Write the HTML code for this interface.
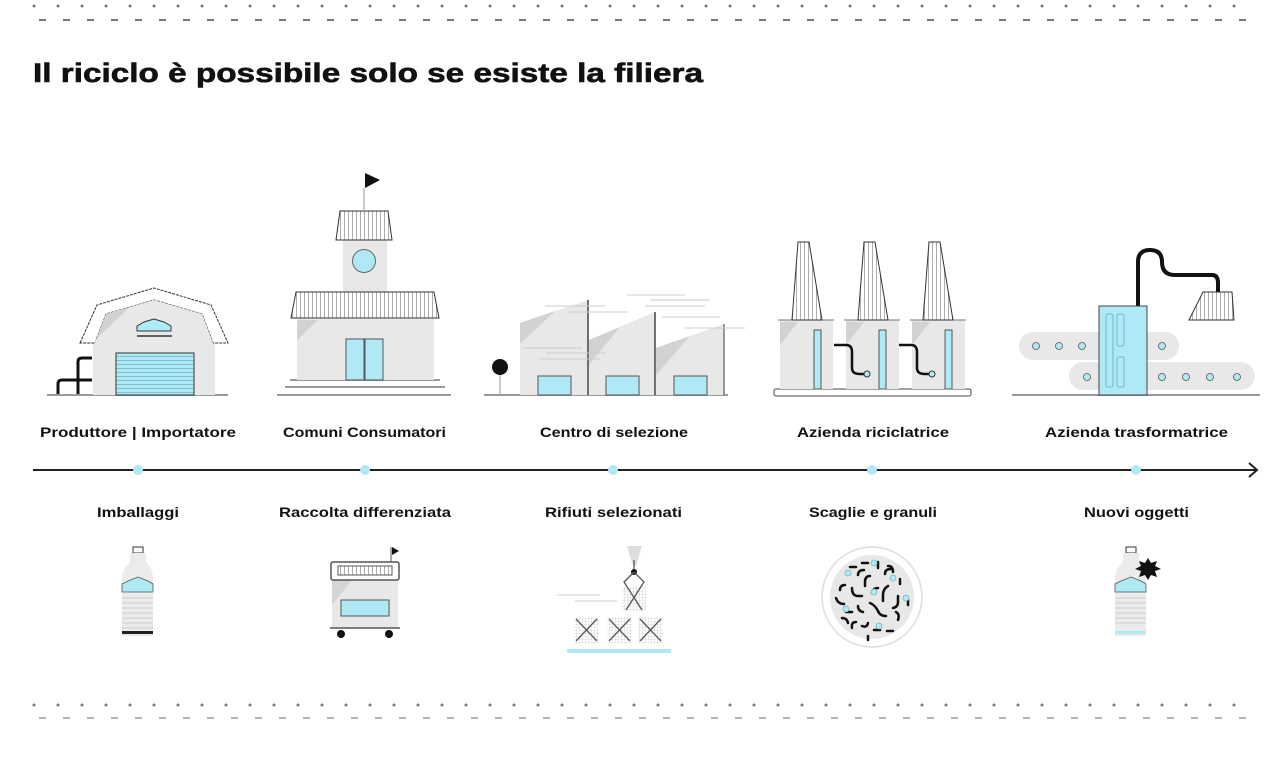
<!DOCTYPE html>
<html><head><meta charset="utf-8"><style>
html,body{margin:0;padding:0;background:#fff;}
svg{display:block;}
text{font-family:"Liberation Sans",sans-serif;font-weight:bold;fill:#111;}
</style></head><body>
<svg width="1280" height="777" viewBox="0 0 1280 777" xmlns="http://www.w3.org/2000/svg">
<defs>
<pattern id="vl" width="4" height="10" patternUnits="userSpaceOnUse"><rect width="4" height="10" fill="#fff"/><rect x="0" width="0.8" height="10" fill="#999"/></pattern>
<pattern id="hl" width="10" height="4" patternUnits="userSpaceOnUse"><rect width="10" height="4" fill="#aee9f5"/><rect y="0" width="10" height="0.8" fill="#6fb9c8"/></pattern>
<pattern id="grid" width="3" height="3" patternUnits="userSpaceOnUse"><rect width="3" height="3" fill="#fff"/><path d="M0 0H3M0 0V3" stroke="#bbb" stroke-width="0.6"/></pattern>
</defs>
<!-- top border -->
<line x1="34" y1="6" x2="1248" y2="6" stroke="#777" stroke-width="3" stroke-linecap="round" stroke-dasharray="0 24"/>
<line x1="39" y1="20" x2="1249" y2="20" stroke="#777" stroke-width="2" stroke-dasharray="7 17"/>
<!-- bottom border -->
<line x1="34" y1="705" x2="1248" y2="705" stroke="#777" stroke-width="3" stroke-linecap="round" stroke-dasharray="0 24"/>
<line x1="39" y1="718" x2="1249" y2="718" stroke="#999" stroke-width="1.5" stroke-dasharray="7 17"/>

<text x="33" y="82" font-size="27" textLength="670" lengthAdjust="spacingAndGlyphs" stroke="#111" stroke-width="0.6">Il riciclo è possibile solo se esiste la filiera</text>

<!-- Timeline -->
<line x1="33" y1="470" x2="1256" y2="470" stroke="#222" stroke-width="2"/>
<path d="M1249 463 L1257 470 L1249 477" fill="none" stroke="#222" stroke-width="2"/>
<g fill="#aee9f5"><circle cx="138" cy="470" r="5"/><circle cx="365" cy="470" r="5"/><circle cx="613" cy="470" r="5"/><circle cx="872" cy="470" r="5"/><circle cx="1136" cy="470" r="5"/></g>

<g font-size="14">
<text x="40" y="437" textLength="196" lengthAdjust="spacingAndGlyphs">Produttore | Importatore</text>
<text x="283" y="437" textLength="163" lengthAdjust="spacingAndGlyphs">Comuni Consumatori</text>
<text x="540" y="437" textLength="148" lengthAdjust="spacingAndGlyphs">Centro di selezione</text>
<text x="797" y="437" textLength="152" lengthAdjust="spacingAndGlyphs">Azienda riciclatrice</text>
<text x="1045" y="437" textLength="183" lengthAdjust="spacingAndGlyphs">Azienda trasformatrice</text>
<text x="97" y="517" textLength="82" lengthAdjust="spacingAndGlyphs">Imballaggi</text>
<text x="279" y="517" textLength="172" lengthAdjust="spacingAndGlyphs">Raccolta differenziata</text>
<text x="545" y="517" textLength="137" lengthAdjust="spacingAndGlyphs">Rifiuti selezionati</text>
<text x="809" y="517" textLength="128" lengthAdjust="spacingAndGlyphs">Scaglie e granuli</text>
<text x="1084" y="517" textLength="105" lengthAdjust="spacingAndGlyphs">Nuovi oggetti</text>
</g>

<!-- Barn -->
<g>
<line x1="47" y1="395" x2="228" y2="395" stroke="#999" stroke-width="2"/>
<path d="M93 339 L93 395 L215 395 L215 339 Z" fill="#e8e8e8"/>
<path d="M80 343 L97 305 L154 288 L211 305 L228 343 L213 343 L202 314 L154 300 L106 314 L95 343 Z" fill="#fff" stroke="#333" stroke-width="1" stroke-dasharray="3 1"/>
<path d="M95 343 L106 314 L154 300 L202 314 L213 343 L213 395 L95 395 Z" fill="#e8e8e8"/>
<path d="M95 343 L106 314 L130 307 L95 340Z" fill="#d2d2d2"/>
<rect x="116" y="353" width="78" height="42" fill="url(#hl)" stroke="#333"/>
<path d="M137 331 L137 326 L144 322 L154 319 L164 322 L171 326 L171 331 Z" fill="#aee9f5" stroke="#333"/>
<line x1="137" y1="336" x2="172" y2="336" stroke="#333" stroke-width="1.5"/>
<path d="M58 394 V384 Q58 380 62 380 H92 M78 394 V362 Q78 358 82 358 H92" fill="none" stroke="#111" stroke-width="3"/>
</g>

<!-- Town hall -->
<g>
<line x1="277" y1="395" x2="451" y2="395" stroke="#999" stroke-width="2"/>
<line x1="285" y1="387" x2="445" y2="387" stroke="#999" stroke-width="2"/>
<line x1="290" y1="380" x2="440" y2="380" stroke="#999" stroke-width="2"/>
<rect x="343" y="240" width="44" height="52" fill="#e8e8e8"/>
<rect x="297" y="318" width="137" height="62" fill="#e8e8e8"/>
<path d="M297 320 L318 320 L297 340Z" fill="#d2d2d2"/>
<path d="M296 292 L434 292 L439 318 L291 318 Z" fill="url(#vl)" stroke="#333"/>
<path d="M340 211 L388 211 L392 240 L336 240 Z" fill="url(#vl)" stroke="#333"/>
<line x1="364" y1="188" x2="364" y2="211" stroke="#aaa" stroke-width="1.2"/>
<path d="M365 173 L380 180 L365 188Z" fill="#111"/>
<circle cx="364" cy="261" r="11.5" fill="#aee9f5" stroke="#666"/>
<rect x="346" y="339" width="18" height="41" fill="#aee9f5" stroke="#555"/>
<rect x="365" y="339" width="18" height="41" fill="#aee9f5" stroke="#555"/>
</g>

<!-- Selection center -->
<g>
<line x1="484" y1="395" x2="728" y2="395" stroke="#999" stroke-width="2"/>
<path d="M520 395 V323 L588 300 V395 Z" fill="#e8e8e8"/>
<path d="M520 323 L555 311 L520 344Z" fill="#d2d2d2"/>
<path d="M589 395 V340 L655 312 V395 Z" fill="#e8e8e8"/>
<path d="M589 340 L620 327 L589 365Z" fill="#d2d2d2"/>
<path d="M656 395 V348 L724 324 V395 Z" fill="#e8e8e8"/>
<path d="M656 348 L690 336 L656 375Z" fill="#d2d2d2"/>
<line x1="588" y1="300" x2="588" y2="395" stroke="#444" stroke-width="1.5"/>
<line x1="655" y1="312" x2="655" y2="395" stroke="#444" stroke-width="1.5"/>
<line x1="724" y1="324" x2="724" y2="395" stroke="#777" stroke-width="1.5"/>
<g stroke="#ccc" stroke-width="1"><line x1="545" y1="306" x2="605" y2="306"/><line x1="568" y1="312" x2="628" y2="312"/><line x1="627" y1="295" x2="685" y2="295"/><line x1="650" y1="300" x2="710" y2="300"/><line x1="645" y1="306" x2="705" y2="306"/><line x1="662" y1="317" x2="720" y2="317"/><line x1="685" y1="328" x2="745" y2="328"/><line x1="523" y1="348" x2="582" y2="348"/><line x1="546" y1="353" x2="606" y2="353"/><line x1="540" y1="359" x2="600" y2="359"/></g>
<rect x="538" y="376" width="33" height="19" fill="#aee9f5" stroke="#555"/>
<rect x="606" y="376" width="33" height="19" fill="#aee9f5" stroke="#555"/>
<rect x="674" y="376" width="33" height="19" fill="#aee9f5" stroke="#555"/>
<line x1="500" y1="368" x2="500" y2="395" stroke="#aaa" stroke-width="1.2"/>
<circle cx="500" cy="367" r="8" fill="#111"/>
</g>

<!-- Recycling plant -->
<g>
<rect x="774" y="389" width="197" height="7" rx="2" fill="#fff" stroke="#444"/>
<rect x="780" y="320" width="53" height="69" fill="#e8e8e8"/>
<rect x="846" y="320" width="53" height="69" fill="#e8e8e8"/>
<rect x="912" y="320" width="53" height="69" fill="#e8e8e8"/>
<path d="M780 322 L798 322 L780 345Z M846 322 L864 322 L846 345Z M912 322 L930 322 L912 345Z" fill="#d2d2d2"/>
<line x1="778" y1="320" x2="834" y2="320" stroke="#777"/><line x1="844" y1="320" x2="900" y2="320" stroke="#777"/><line x1="910" y1="320" x2="966" y2="320" stroke="#777"/>
<path d="M798 242 L809 242 L822 320 L792 320 Z" fill="url(#vl)" stroke="#333"/>
<path d="M864 242 L875 242 L888 320 L858 320 Z" fill="url(#vl)" stroke="#333"/>
<path d="M929 242 L940 242 L953 320 L923 320 Z" fill="url(#vl)" stroke="#333"/>
<rect x="814" y="330" width="7" height="59" fill="#aee9f5" stroke="#555"/>
<rect x="879" y="330" width="7" height="59" fill="#aee9f5" stroke="#555"/>
<rect x="945" y="330" width="7" height="59" fill="#aee9f5" stroke="#555"/>
<path d="M834 345 H846 Q852 345 852 352 V368 Q852 374 860 374 H866" fill="none" stroke="#111" stroke-width="2.5"/>
<path d="M899 345 H911 Q917 345 917 352 V368 Q917 374 925 374 H931" fill="none" stroke="#111" stroke-width="2.5"/>
<circle cx="867" cy="374" r="3" fill="#aee9f5" stroke="#333"/>
<circle cx="932" cy="374" r="3" fill="#aee9f5" stroke="#333"/>
</g>

<!-- Transformer -->
<g>
<line x1="1012" y1="395" x2="1260" y2="395" stroke="#999" stroke-width="2"/>
<rect x="1019" y="332" width="160" height="28" rx="14" fill="#e8e8e8"/>
<rect x="1069" y="362" width="186" height="28" rx="14" fill="#e8e8e8"/>
<g fill="#aee9f5" stroke="#555" stroke-width="0.8">
<circle cx="1036" cy="346" r="3.5"/><circle cx="1059" cy="346" r="3.5"/><circle cx="1082" cy="346" r="3.5"/><circle cx="1162" cy="346" r="3.5"/>
<circle cx="1087" cy="377" r="3.5"/><circle cx="1162" cy="377" r="3.5"/><circle cx="1186" cy="377" r="3.5"/><circle cx="1210" cy="377" r="3.5"/><circle cx="1237" cy="377" r="3.5"/>
</g>
<path d="M1138 306 V262 Q1138 250 1150 250 Q1162 250 1162 262 Q1162 275 1175 275 H1212 Q1218 275 1218 283 V292" fill="none" stroke="#111" stroke-width="4"/>
<rect x="1099" y="306" width="48" height="89" fill="#aee9f5" stroke="#444"/>
<g fill="none" stroke="#6fb9c8"><rect x="1106" y="314" width="7" height="73" rx="2"/><rect x="1117" y="314" width="7" height="32" rx="2"/><rect x="1117" y="357" width="7" height="30" rx="2"/></g>
<path d="M1203 292 L1232 292 L1234 320 L1189 320 Z" fill="url(#vl)" stroke="#333"/>
</g>

<!-- Bottle 1 -->
<g>
<rect x="133" y="547" width="10" height="6" fill="#fff" stroke="#333"/>
<path d="M130 553 H146 V562 Q153 570 153 578 V636 H122 V578 Q122 570 130 562 Z" fill="#ebebeb"/>
<path d="M122 584 L128 581 L138 577 L148 581 L153 584 V592 H122Z" fill="#aee9f5" stroke="#555" stroke-width="0.8"/>
<g stroke="#ccc"><line x1="122" y1="598" x2="153" y2="598"/><line x1="122" y1="603" x2="153" y2="603"/><line x1="122" y1="608" x2="153" y2="608"/><line x1="122" y1="613" x2="153" y2="613"/><line x1="122" y1="618" x2="153" y2="618"/><line x1="122" y1="623" x2="153" y2="623"/><line x1="122" y1="628" x2="153" y2="628"/></g>
<rect x="122" y="631" width="31" height="3" fill="#222"/>
</g>

<!-- Cart -->
<g>
<rect x="332" y="570" width="66" height="58" fill="#e8e8e8"/>
<path d="M332 580 L352 580 L332 605Z" fill="#d5d5d5"/>
<rect x="331" y="562" width="68" height="18" rx="2" fill="#fff" stroke="#555" stroke-width="1.5"/>
<rect x="338" y="566" width="54" height="9" fill="url(#vl)" stroke="#555"/>
<rect x="341" y="600" width="48" height="16" fill="#aee9f5" stroke="#555"/>
<line x1="330" y1="628" x2="400" y2="628" stroke="#555" stroke-width="1.5"/>
<circle cx="341" cy="634" r="4" fill="#111"/><circle cx="389" cy="634" r="4" fill="#111"/>
<line x1="391" y1="547" x2="391" y2="562" stroke="#555"/>
<path d="M392 547 L399 551 L392 555Z" fill="#111"/>
</g>

<!-- Boxes -->
<g>
<path d="M627 546 H642 L636 566 H633 Z" fill="#ddd"/>
<line x1="634" y1="560" x2="634" y2="572" stroke="#333"/>
<circle cx="634" cy="572" r="3" fill="#111"/>
<rect x="622" y="586" width="24" height="25" fill="url(#grid)"/>
<path d="M634 572 L624 582 L642 610 M634 572 L644 582 L626 610" fill="none" stroke="#555" stroke-width="1.3"/>
<g stroke="#ccc"><line x1="557" y1="595" x2="600" y2="595"/><line x1="575" y1="601" x2="617" y2="601"/></g>
<rect x="574" y="617" width="25" height="26" fill="url(#grid)"/>
<rect x="607" y="617" width="25" height="26" fill="url(#grid)"/>
<rect x="638" y="617" width="25" height="26" fill="url(#grid)"/>
<path d="M576 619 L597 641 M597 619 L576 641 M609 619 L630 641 M630 619 L609 641 M640 619 L661 641 M661 619 L640 641" stroke="#555" stroke-width="1.3"/>
<rect x="567" y="649" width="104" height="4" fill="#aee9f5"/>
</g>

<!-- Granules -->
<g>
<circle cx="872" cy="597" r="50" fill="#fff" stroke="#ddd" stroke-width="1.5"/>
<circle cx="872" cy="597" r="42" fill="#e8e8e8"/>
<g fill="none" stroke="#111" stroke-width="2.5" stroke-linecap="round">
<path d="M850 567 h6 M862 563 h6 M878 562 v6 M888 566 q5 0 5 6 M858 575 q0 -5 6 -5 M870 576 q-5 0 -5 6 v4 M885 574 q0 -5 6 -5 M900 579 v5 M840 590 q0 -5 5 -5 M836 598 q2 6 8 6 M852 588 q0 8 6 8 h4 M878 588 q-5 0 -6 5 M888 586 q-5 3 -5 9 v6 M898 596 v6 q0 5 -5 6 M846 612 h6 M858 606 q0 5 5 6 M870 603 q5 2 8 8 q2 5 8 5 M896 612 q4 2 2 8 M842 618 q5 0 6 5 M856 622 q-5 0 -4 6 M862 626 q5 2 6 -3 M874 630 h6 M887 631 h6 M868 636 v4 M908 600 v5"/>
</g>
<g fill="#aee9f5" stroke="#6fb9c8" stroke-width="0.8">
<circle cx="874" cy="563" r="3"/><circle cx="848" cy="573" r="3"/><circle cx="893" cy="578" r="3"/><circle cx="874" cy="592" r="3"/><circle cx="906" cy="598" r="3"/><circle cx="846" cy="609" r="3"/><circle cx="879" cy="626" r="3"/>
</g>
</g>

<!-- Bottle 2 -->
<g>
<rect x="1126" y="547" width="10" height="6" fill="#fff" stroke="#333"/>
<path d="M1123 553 H1139 V562 Q1146 570 1146 578 V636 H1115 V578 Q1115 570 1123 562 Z" fill="#ebebeb"/>
<path d="M1115 584 L1121 581 L1131 577 L1141 581 L1146 584 V592 H1115Z" fill="#aee9f5" stroke="#555" stroke-width="0.8"/>
<g stroke="#ccc"><line x1="1115" y1="598" x2="1146" y2="598"/><line x1="1115" y1="603" x2="1146" y2="603"/><line x1="1115" y1="608" x2="1146" y2="608"/><line x1="1115" y1="613" x2="1146" y2="613"/><line x1="1115" y1="618" x2="1146" y2="618"/><line x1="1115" y1="623" x2="1146" y2="623"/></g>
<rect x="1115" y="631" width="31" height="3" fill="#aee9f5"/>
<polygon points="1148,558 1151,563 1157,561 1155,566 1161,569 1155,571 1157,577 1151,575 1148,580 1145,575 1139,577 1141,571 1135,569 1141,566 1139,561 1145,563" fill="#111"/>
</g>
</svg>
</body></html>
